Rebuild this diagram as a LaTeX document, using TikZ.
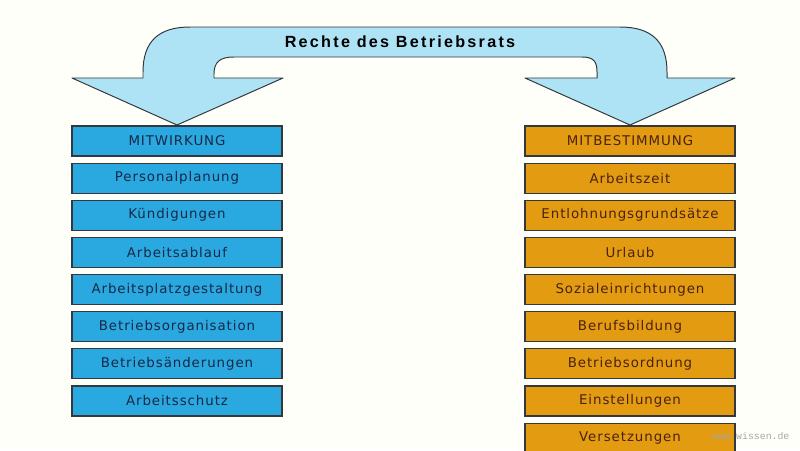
\documentclass[tikz,border=0pt]{standalone}
\usepackage{fontspec}
\setmainfont{Liberation Sans}
\newfontfamily\boxfont[LetterSpace=7]{DejaVu Sans}
\newfontfamily\titlefont[LetterSpace=14]{Liberation Sans Bold}
\newfontfamily\wwwfont{Liberation Mono}
\usepackage{tikz}
\usetikzlibrary{positioning}
\definecolor{arrowblue}{RGB}{173,227,245}
\definecolor{boxblue}{RGB}{42,169,224}
\definecolor{boxorange}{RGB}{227,155,18}
\definecolor{edgegray}{RGB}{52,56,60}
\definecolor{textnavy}{RGB}{24,40,72}
\definecolor{textbrown}{RGB}{74,34,16}
\definecolor{paper}{RGB}{255,255,249}
\tikzstyle{mitwirkung} = [rectangle, minimum width=5.25cm, minimum height=0.75cm, inner sep=0pt, text centered, draw=edgegray, fill=boxblue, text=textnavy, font=\boxfont\fontsize{9.5}{11}\selectfont]
\tikzstyle{mitbestimmung} = [rectangle, minimum width=5.25cm, minimum height=0.75cm, inner sep=0pt, text centered, draw=edgegray, fill=boxorange, text=textbrown, font=\boxfont\fontsize{9.5}{11}\selectfont]
\tikzstyle{bigarrow} = [draw=edgegray, fill=arrowblue, line width=0.7pt, line join=round]
\begin{document}
\begin{tikzpicture}[x=0.025cm, y=-0.025cm, node distance=0.15cm, line width=0.8pt]
    \fill[paper] (0,0) rectangle (800,450);
    \useasboundingbox (0,0) rectangle (800,450);
    % arrow
    \draw [bigarrow] (72,78) -- (177,125) -- (283,78) -- (214,78) -- (214,74)
        .. controls (214,62) and (220,57) .. (234,57) -- (582,57)
        .. controls (594,57) and (597,62) .. (597,72) -- (597,78) -- (525,78)
        -- (630,125) -- (735,78) -- (667,78) -- (667,72)
        .. controls (667,42) and (652,27) .. (620,27) -- (190,27)
        .. controls (158,27) and (143,42) .. (143,72) -- (143,78) -- cycle;
    \node (Rechte) at (400,42) {\titlefont\fontsize{11.5}{13}\selectfont Rechte des Betriebsrats};
    % left column
    \node (Mitwirkung) [mitwirkung] at (177,141) {MITWIRKUNG};
    \node (Personalplanung) [mitwirkung, below = of Mitwirkung] {Personalplanung};
    \node (Kuendigungen) [mitwirkung, below = of Personalplanung] {Kündigungen};
    \node (Arbeitsablauf) [mitwirkung, below = of Kuendigungen] {Arbeitsablauf};
    \node (Arbeitsplatz) [mitwirkung, below = of Arbeitsablauf] {Arbeitsplatzgestaltung};
    \node (Organisation) [mitwirkung, below = of Arbeitsplatz] {Betriebsorganisation};
    \node (Aenderungen) [mitwirkung, below = of Organisation] {Betriebsänderungen};
    \node (Arbeitsschutz) [mitwirkung, below = of Aenderungen] {Arbeitsschutz};
    % right column
    \node (Mitbestimmung) [mitbestimmung] at (630,141) {MITBESTIMMUNG};
    \node (Arbeitszeit) [mitbestimmung, below = of Mitbestimmung] {Arbeitszeit};
    \node (Entlohnung) [mitbestimmung, below = of Arbeitszeit] {Entlohnungsgrundsätze};
    \node (Urlaub) [mitbestimmung, below = of Entlohnung] {Urlaub};
    \node (Sozial) [mitbestimmung, below = of Urlaub] {Sozialeinrichtungen};
    \node (Berufsbildung) [mitbestimmung, below = of Sozial] {Berufsbildung};
    \node (Ordnung) [mitbestimmung, below = of Berufsbildung] {Betriebsordnung};
    \node (Einstellungen) [mitbestimmung, below = of Ordnung] {Einstellungen};
    \node (Versetzungen) [mitbestimmung, below = of Einstellungen] {Versetzungen};
    \node (Wissen) [text=black!35, font=\wwwfont\fontsize{7}{8}\selectfont] at (751,436) {www.wissen.de};
\end{tikzpicture}
\end{document}
